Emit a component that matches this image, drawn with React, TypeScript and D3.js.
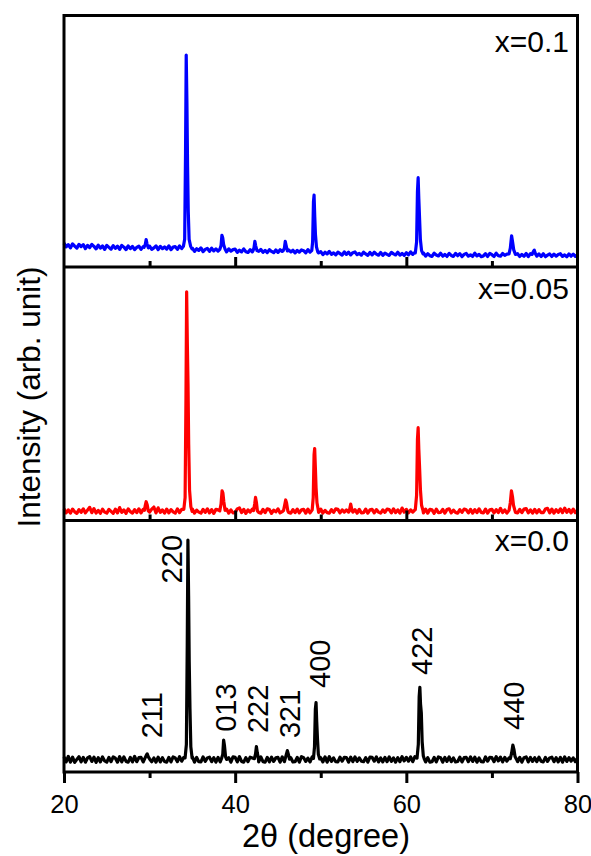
import React, { useEffect, useRef } from "react";
import * as d3 from "d3";

// ---------------- DATA ----------------
// Baselines sampled every 0.25 deg from 20 to 80 (2-theta), intensity in arb. units (0-100 per panel)
const BASE_START = 20;
const BASE_STEP = 0.25;

const blueBase: number[] = [
  9.5, 8.0, 8.9, 7.6, 9.2, 8.3, 7.5, 9.0, 8.1, 8.9, 7.3, 8.6, 7.7, 9.0, 8.2, 7.2,
  8.7, 7.5, 8.4, 7.0, 8.6, 7.8, 7.1, 8.5, 7.4, 8.3, 7.0, 8.6, 7.9, 6.9, 8.4, 7.3,
  8.2, 6.9, 7.8, 8.3, 7.0, 8.1, 8.0, 7.2, 8.3, 7.0, 7.6, 8.4, 6.9, 8.2, 7.3, 8.0,
  7.1, 8.4, 6.9, 7.9, 8.1, 7.0, 8.4, 7.3, 8.0, 7.8, 7.0, 7.1, 7.5, 6.2, 7.3, 6.6,
  7.6, 6.1, 7.0, 7.4, 6.2, 7.5, 6.4, 7.2, 6.3, 7.4, 7.0, 6.8, 6.0, 7.2, 6.3, 6.9,
  7.1, 5.8, 6.7, 6.0, 7.2, 6.1, 5.8, 6.9, 6.0, 7.1, 6.5, 6.2, 7.0, 5.8, 6.6, 5.7,
  6.9, 6.2, 5.7, 6.8, 5.8, 6.9, 6.2, 6.5, 5.7, 6.8, 6.0, 6.7, 5.6, 6.6, 5.9, 6.8,
  6.5, 5.6, 6.9, 5.9, 6.5, 5.6, 6.2, 5.6, 6.1, 4.9, 5.9, 5.2, 6.2, 5.0, 5.6, 4.8,
  5.9, 5.3, 4.7, 6.0, 5.0, 5.9, 4.8, 5.7, 6.0, 4.9, 5.4, 4.7, 5.9, 5.2, 4.6, 5.8,
  4.8, 5.9, 5.1, 4.7, 5.8, 4.6, 5.5, 5.0, 4.6, 5.8, 5.2, 4.8, 5.9, 4.7, 5.4, 4.6,
  5.7, 4.8, 6.0, 5.0, 5.8, 5.1, 5.7, 5.0, 5.6, 4.3, 5.3, 4.5, 4.2, 5.5, 4.8, 4.4,
  5.5, 4.3, 5.0, 4.2, 5.4, 4.6, 4.2, 5.4, 4.5, 5.3, 4.1, 5.0, 5.4, 4.3, 4.8, 4.2,
  5.5, 4.4, 5.0, 4.1, 4.4, 5.3, 4.2, 5.4, 4.9, 4.2, 5.5, 4.5, 4.3, 5.4, 4.6, 5.1,
  5.4, 4.8, 5.3, 4.6, 5.3, 4.2, 5.0, 4.3, 5.4, 4.1, 5.3, 4.7, 5.2, 4.3, 5.2, 4.2,
  5.3, 4.1, 4.7, 5.2, 4.2, 5.1, 4.3, 5.0, 5.3, 4.2, 4.8, 4.1, 5.2, 4.3, 5.1, 4.2,
  4.8,
];

const redBase: number[] = [
  4.6, 3.0, 4.2, 2.9, 4.5, 3.4, 2.8, 4.3, 3.2, 4.6, 3.0, 4.1, 5.2, 3.1, 4.7, 2.9,
  4.0, 2.8, 4.5, 3.3, 2.9, 4.4, 3.6, 2.8, 4.5, 3.0, 5.1, 3.2, 4.2, 2.8, 4.6, 3.5,
  2.9, 4.3, 3.1, 4.6, 3.0, 4.4, 3.2, 4.2, 3.3, 4.5, 5.3, 3.0, 5.0, 3.2, 4.2, 2.9,
  4.5, 3.0, 4.3, 3.4, 2.9, 4.6, 3.1, 4.4, 4.4, 3.4, 4.2, 3.3, 4.5, 2.9, 4.1, 3.3,
  2.9, 4.4, 3.2, 4.6, 3.0, 4.3, 2.8, 4.4, 4.2, 3.3, 4.3, 3.4, 4.5, 2.9, 4.2, 3.0,
  3.2, 4.6, 5.0, 3.1, 4.4, 2.8, 4.2, 3.3, 4.5, 3.0, 4.2, 3.2, 2.9, 4.4, 3.1, 4.6,
  4.3, 2.8, 4.1, 3.4, 4.6, 3.0, 3.5, 4.4, 4.1, 3.2, 2.9, 4.3, 3.1, 4.5, 3.0, 4.2,
  4.4, 2.9, 4.5, 3.0, 4.2, 3.3, 4.1, 3.2, 4.5, 2.9, 4.0, 3.1, 2.9, 4.3, 3.2, 4.6,
  4.4, 3.0, 4.2, 3.3, 4.2, 3.3, 4.2, 3.3, 4.3, 2.9, 4.4, 3.0, 3.1, 4.5, 2.9, 4.2,
  4.4, 3.0, 4.3, 3.3, 2.9, 4.2, 3.2, 4.5, 4.3, 3.0, 4.6, 3.1, 4.2, 2.9, 4.9, 3.3,
  4.4, 3.0, 4.2, 3.3, 4.2, 3.3, 4.2, 3.2, 3.0, 4.5, 2.9, 4.4, 4.2, 2.8, 4.5, 3.1,
  3.2, 4.4, 2.9, 4.3, 4.6, 3.0, 4.1, 3.2, 2.9, 4.3, 3.2, 4.5, 4.2, 3.0, 4.4, 2.9,
  4.3, 3.1, 4.6, 3.2, 3.0, 4.5, 2.9, 4.2, 4.4, 3.0, 4.3, 3.1, 4.8, 3.1, 4.2, 2.9,
  4.2, 3.3, 4.3, 3.2, 3.0, 4.4, 3.1, 4.5, 4.7, 3.0, 4.2, 2.9, 4.4, 3.0, 4.3, 3.1,
  3.1, 4.5, 4.8, 3.0, 4.5, 2.9, 4.3, 3.2, 4.6, 3.1, 4.9, 3.2, 4.4, 3.0, 4.5, 3.1,
  4.0,
];

const blackBase: number[] = [
  6.0, 4.0, 6.2, 3.9, 5.9, 3.8, 5.0, 6.1, 4.0, 5.8, 3.9, 5.6, 6.1, 4.2, 5.9, 3.8,
  5.7, 4.0, 6.0, 4.4, 3.9, 5.8, 4.1, 6.0, 5.5, 3.9, 6.1, 4.0, 6.0, 4.2, 3.9, 5.8,
  4.0, 6.2, 4.1, 5.7, 5.8, 4.0, 6.0, 4.4, 6.0, 4.1, 5.6, 3.9, 5.9, 4.0, 5.7, 4.2,
  3.9, 5.8, 4.0, 6.0, 5.6, 4.1, 6.1, 4.3, 5.8, 4.2, 5.6, 4.1, 6.0, 3.9, 5.8, 4.1,
  4.0, 6.0, 4.2, 5.6, 5.9, 4.1, 5.7, 3.9, 5.8, 4.0, 5.9, 4.2, 4.1, 5.7, 3.9, 6.0,
  5.8, 4.0, 6.1, 4.2, 3.9, 5.7, 4.1, 5.9, 5.6, 4.2, 5.8, 4.0, 6.0, 4.1, 3.9, 5.8,
  4.0, 5.9, 4.2, 5.6, 5.8, 3.9, 6.0, 4.1, 5.6, 4.3, 5.7, 4.0, 4.1, 5.8, 3.9, 6.1,
  5.7, 4.2, 5.5, 4.0, 6.0, 4.1, 5.8, 4.2, 5.7, 4.0, 6.0, 3.9, 6.1, 4.2, 5.6, 4.1,
  4.0, 5.9, 4.3, 5.8, 5.7, 3.9, 5.9, 4.1, 6.0, 4.2, 5.6, 4.3, 4.1, 5.7, 3.9, 5.9,
  5.8, 4.3, 6.0, 4.0, 5.6, 4.0, 5.8, 4.1, 6.0, 4.2, 5.6, 3.9, 5.7, 4.1, 6.1, 4.4,
  5.8, 4.3, 6.0, 4.1, 6.1, 4.5, 5.8, 4.3, 5.9, 4.0, 5.7, 3.9, 4.1, 5.8, 4.0, 6.0,
  5.7, 3.9, 5.8, 4.2, 6.0, 4.1, 5.6, 4.0, 4.2, 5.9, 4.0, 5.7, 5.8, 4.1, 6.0, 4.2,
  5.9, 3.9, 5.6, 4.1, 4.0, 6.0, 4.3, 5.8, 5.7, 4.1, 6.1, 4.4, 5.9, 4.0, 5.8, 4.3,
  5.6, 4.2, 5.9, 4.0, 4.1, 5.8, 3.9, 5.7, 6.0, 4.0, 5.8, 4.2, 5.7, 4.1, 5.9, 4.3,
  4.0, 5.8, 4.2, 5.6, 5.9, 4.1, 5.7, 4.0, 5.8, 3.9, 6.0, 4.2, 5.7, 4.3, 5.6, 4.1,
  5.6,
];

// Peak profiles [2theta, intensity]
const bluePeaks: number[][][] = [
  [[29.35, 7.8], [29.5, 9.0], [29.6, 10.9], [29.7, 9.2], [29.85, 7.6]],
  [[33.95, 8.2], [34.1, 11], [34.2, 45], [34.28, 84.3], [34.36, 66], [34.44, 40], [34.52, 22], [34.62, 11], [34.8, 8.2], [34.95, 7.2]],
  [[38.2, 7.0], [38.35, 8.5], [38.45, 12.6], [38.55, 11.5], [38.65, 9.0], [38.8, 7.3]],
  [[42.1, 6.6], [42.2, 7.6], [42.3, 10.2], [42.4, 8.4], [42.55, 6.5]],
  [[45.6, 6.4], [45.75, 7.5], [45.85, 10.2], [45.95, 8.6], [46.1, 6.4]],
  [[48.95, 6.5], [49.05, 10], [49.15, 26], [49.22, 28.6], [49.3, 20], [49.38, 13], [49.5, 8], [49.65, 6.0]],
  [[61.05, 5.6], [61.2, 10], [61.3, 30], [61.38, 35.5], [61.46, 27], [61.55, 19], [61.64, 11], [61.78, 6.5], [61.95, 5.2]],
  [[72.0, 5.2], [72.15, 7.5], [72.3, 12.4], [72.42, 9.8], [72.55, 6.8], [72.75, 5.0]],
  [[74.7, 5.0], [74.85, 6.2], [74.95, 6.7], [75.1, 5.2]],
];

const redPeaks: number[][][] = [
  [[29.4, 4.0], [29.5, 6.0], [29.6, 7.4], [29.72, 6.2], [29.85, 3.8]],
  [[34.0, 4.4], [34.15, 9], [34.25, 48], [34.33, 90.2], [34.41, 70], [34.49, 54], [34.57, 30], [34.67, 12], [34.82, 5.5], [34.97, 3.6]],
  [[38.2, 3.8], [38.35, 6.5], [38.47, 11.7], [38.57, 10.8], [38.67, 7.5], [38.82, 4.0]],
  [[42.15, 3.9], [42.28, 6.5], [42.38, 9.1], [42.48, 7.2], [42.6, 3.8]],
  [[45.65, 3.9], [45.78, 6.0], [45.9, 8.1], [46.0, 7.0], [46.15, 3.8]],
  [[49.0, 4.2], [49.12, 9], [49.22, 26], [49.29, 28.4], [49.37, 21], [49.45, 13], [49.56, 7], [49.72, 4.0]],
  [[53.35, 3.9], [53.5, 6.5], [53.65, 4.0]],
  [[61.05, 4.3], [61.2, 10], [61.3, 32], [61.38, 36.6], [61.46, 28], [61.55, 20.7], [61.65, 12], [61.78, 6], [61.95, 3.9]],
  [[72.0, 4.0], [72.15, 7], [72.28, 11.7], [72.4, 9.5], [72.52, 6], [72.7, 3.8]],
];

const blackPeaks: number[][][] = [
  [[29.45, 5.4], [29.6, 6.5], [29.72, 7.2], [29.85, 6.0], [30.0, 5.2]],
  [[34.15, 5.6], [34.3, 11], [34.4, 50], [34.48, 92.2], [34.56, 70], [34.63, 44], [34.72, 25], [34.82, 10], [34.97, 5.5]],
  [[38.4, 5.3], [38.55, 7], [38.65, 12.7], [38.75, 10.5], [38.88, 6], [39.0, 5.0]],
  [[42.25, 5.3], [42.38, 7.2], [42.48, 10.1], [42.58, 7.8], [42.72, 5.2]],
  [[45.85, 5.3], [45.98, 7], [46.1, 8.5], [46.22, 7], [46.35, 5.1]],
  [[49.15, 5.4], [49.27, 10], [49.37, 25], [49.45, 27.6], [49.53, 20], [49.62, 13], [49.72, 7], [49.88, 5.2]],
  [[61.25, 5.5], [61.4, 11], [61.5, 30], [61.58, 33.7], [61.66, 27], [61.75, 23.5], [61.85, 12], [61.98, 6.5], [62.12, 5.0]],
  [[72.15, 5.3], [72.3, 7.5], [72.45, 10.7], [72.57, 9], [72.7, 6.2], [72.88, 5.0]],
];

const sampleNames = ["x=0.1", "x=0.05", "x=0.0"];
const sampleColors = ["#0000ff", "#ff0000", "#000000"];

// hkl annotations for bottom panel (x in 2theta, y = start of label in intensity units)
const hklLabels = ["211", "220", "013", "222", "321", "400", "422", "440"];
const hklX = [31.4, 33.75, 40.15, 43.85, 47.55, 51.05, 63.05, 73.8];
const hklY = [13.4, 75.0, 16.0, 15.5, 13.5, 33.4, 38.6, 16.7];

const xMajorTicks = [20, 40, 60, 80];
const xMinorTicks = [30, 50, 70];

// ---------------- LAYOUT ----------------
const W = 591;
const H = 856;
const LEFT = 64;
const RIGHT = 577.5;
const PANEL_TOPS = [15.5, 267, 520.5];
const PANEL_BOTTOMS = [267, 520.5, 772];
const NAME_Y = [51.5, 299, 551];
const FONT = "'Liberation Sans', Arial, Helvetica, sans-serif";

function buildPoints(base: number[], peaks: number[][][]): [number, number][] {
  const pts: [number, number][] = [];
  base.forEach((v, i) => {
    const x = BASE_START + i * BASE_STEP;
    const inPeak = peaks.some((p) => x >= p[0][0] && x <= p[p.length - 1][0]);
    if (!inPeak) pts.push([x, v]);
  });
  peaks.forEach((p) => p.forEach((q) => pts.push([q[0], q[1]])));
  pts.sort((a, b) => a[0] - b[0]);
  return pts;
}

export default function App() {
  const ref = useRef<SVGSVGElement | null>(null);

  useEffect(() => {
    const svg = d3.select(ref.current);
    svg.selectAll("*").remove();

    const x = d3.scaleLinear().domain([20, 80]).range([LEFT, RIGHT]);
    const bases = [blueBase, redBase, blackBase];
    const peaks = [bluePeaks, redPeaks, blackPeaks];

    // traces
    bases.forEach((b, i) => {
      const y = d3.scaleLinear().domain([0, 100]).range([PANEL_BOTTOMS[i], PANEL_TOPS[i]]);
      const line = d3
        .line<[number, number]>()
        .x((d) => x(d[0]))
        .y((d) => y(d[1]));
      svg
        .append("path")
        .attr("d", line(buildPoints(b, peaks[i])) || "")
        .attr("fill", "none")
        .attr("stroke", sampleColors[i])
        .attr("stroke-width", 3.2)
        .attr("stroke-linejoin", "round");

      svg
        .append("text")
        .attr("x", 569)
        .attr("y", NAME_Y[i])
        .attr("text-anchor", "end")
        .attr("font-family", FONT)
        .attr("font-size", 30)
        .attr("fill", "#000")
        .text(sampleNames[i]);
    });

    // hkl labels in bottom panel
    const yb = d3.scaleLinear().domain([0, 100]).range([PANEL_BOTTOMS[2], PANEL_TOPS[2]]);
    hklLabels.forEach((lab, i) => {
      svg
        .append("text")
        .attr("transform", `translate(${x(hklX[i])},${yb(hklY[i])}) rotate(-90)`)
        .attr("text-anchor", "start")
        .attr("font-family", FONT)
        .attr("font-size", 29)
        .attr("fill", "#000")
        .text(lab);
    });

    // frame
    svg
      .append("rect")
      .attr("x", LEFT)
      .attr("y", PANEL_TOPS[0])
      .attr("width", RIGHT - LEFT)
      .attr("height", PANEL_BOTTOMS[2] - PANEL_TOPS[0])
      .attr("fill", "none")
      .attr("stroke", "#000")
      .attr("stroke-width", 3);
    [PANEL_BOTTOMS[0], PANEL_BOTTOMS[1]].forEach((yy) => {
      svg
        .append("line")
        .attr("x1", LEFT)
        .attr("x2", RIGHT)
        .attr("y1", yy)
        .attr("y2", yy)
        .attr("stroke", "#000")
        .attr("stroke-width", 3);
    });

    const styleAxis = (g: any) => {
      g.select(".domain").remove();
      g.selectAll(".tick line").attr("stroke", "#000").attr("stroke-width", 3);
    };

    // separator ticks (pointing up)
    [PANEL_BOTTOMS[0], PANEL_BOTTOMS[1]].forEach((yy) => {
      svg
        .append("g")
        .attr("transform", `translate(0,${yy})`)
        .call(d3.axisTop(x).tickValues(xMajorTicks.slice(1, -1)).tickSize(10).tickFormat(() => ""))
        .call(styleAxis);
      svg
        .append("g")
        .attr("transform", `translate(0,${yy})`)
        .call(d3.axisTop(x).tickValues(xMinorTicks).tickSize(6).tickFormat(() => ""))
        .call(styleAxis);
    });

    // bottom axis
    const gMaj = svg
      .append("g")
      .attr("transform", `translate(0,${PANEL_BOTTOMS[2]})`)
      .call(d3.axisBottom(x).tickValues(xMajorTicks).tickSize(11).tickFormat(d3.format("d")))
      .call(styleAxis);
    gMaj
      .selectAll(".tick text")
      .attr("y", 41)
      .attr("dy", 0)
      .attr("font-family", FONT)
      .attr("font-size", 25.5)
      .attr("fill", "#000");
    svg
      .append("g")
      .attr("transform", `translate(0,${PANEL_BOTTOMS[2]})`)
      .call(d3.axisBottom(x).tickValues(xMinorTicks).tickSize(6).tickFormat(() => ""))
      .call(styleAxis);

    // axis titles
    svg
      .append("text")
      .attr("x", 326)
      .attr("y", 847)
      .attr("text-anchor", "middle")
      .attr("font-family", FONT)
      .attr("font-size", 32.5)
      .attr("fill", "#000")
      .text("2θ (degree)");
    svg
      .append("text")
      .attr("transform", `translate(40,397) rotate(-90)`)
      .attr("text-anchor", "middle")
      .attr("font-family", FONT)
      .attr("font-size", 31.5)
      .attr("fill", "#000")
      .text("Intensity (arb. unit)");
  }, []);

  return (
    <svg
      ref={ref}
      width={W}
      height={H}
      style={{ position: "absolute", left: 0, top: 0, background: "#fff" }}
    />
  );
}
